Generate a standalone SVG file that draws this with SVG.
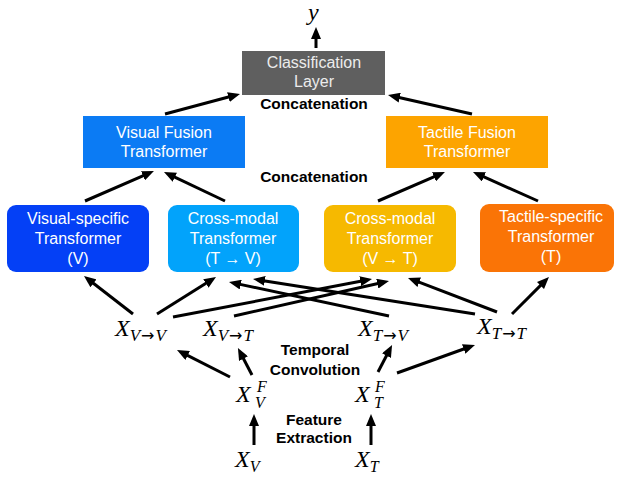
<svg xmlns="http://www.w3.org/2000/svg" width="619" height="477" viewBox="0 0 619 477">
<defs>
<marker id="ah" markerUnits="userSpaceOnUse" markerWidth="12" markerHeight="10" viewBox="0 0 12 10" refX="3" refY="5" orient="auto">
<path d="M0,0 L12,5 L0,10 z" fill="#000"/>
</marker>
<style>
.bt{fill:#fff;font-family:"Liberation Sans",Arial,sans-serif;font-size:16px;text-anchor:middle}
.cl{fill:#ececec}
.lbl{fill:#000;font-family:"Liberation Sans",Arial,sans-serif;font-size:15.5px;font-weight:bold;text-anchor:middle}
.m{fill:#000;font-family:"Liberation Serif","Times New Roman",serif;font-style:italic}
.up{font-style:normal;font-family:"DejaVu Sans",sans-serif;font-size:16px}
.c line{stroke:#000;stroke-width:3;marker-end:url(#ah)}
</style>
</defs>
<g id="y"><text class="m" x="308" y="20" font-size="24">y</text></g>
<g id="classification">
<rect x="242" y="51" width="143" height="44" fill="#5f5f5f"/>
<text class="bt cl" x="314" y="68">Classification</text>
<text class="bt cl" x="314" y="87">Layer</text>
</g>
<g id="concat-top"><text class="lbl" x="314" y="109">Concatenation</text></g>
<g id="visual-fusion">
<rect x="83" y="116" width="162" height="52" fill="#0b7bf4"/>
<text class="bt" x="164" y="138">Visual Fusion</text>
<text class="bt" x="164" y="157">Transformer</text>
</g>
<g id="tactile-fusion">
<rect x="386" y="116" width="162" height="52" fill="#fda400"/>
<text class="bt" x="467" y="138">Tactile Fusion</text>
<text class="bt" x="467" y="157">Transformer</text>
</g>
<g id="concat-mid"><text class="lbl" x="314" y="182">Concatenation</text></g>
<g id="visual-specific">
<rect x="7" y="205" width="142" height="67" rx="9" fill="#0440f6"/>
<text class="bt" x="78" y="224">Visual-specific</text>
<text class="bt" x="78" y="244">Transformer</text>
<text class="bt" x="78" y="264">(V)</text>
</g>
<g id="cross-tv">
<rect x="168" y="205" width="131" height="67" rx="9" fill="#02a3fb"/>
<text class="bt" x="233" y="224">Cross-modal</text>
<text class="bt" x="233" y="244">Transformer</text>
<text class="bt" x="233" y="264">(T → V)</text>
</g>
<g id="cross-vt">
<rect x="324" y="205" width="132" height="67" rx="9" fill="#f6b900"/>
<text class="bt" x="390" y="224">Cross-modal</text>
<text class="bt" x="390" y="244">Transformer</text>
<text class="bt" x="390" y="264">(V → T)</text>
</g>
<g id="tactile-specific">
<rect x="480" y="204" width="134" height="68" rx="9" fill="#fa7406"/>
<text class="bt" x="551" y="222">Tactile-specific</text>
<text class="bt" x="551" y="242">Transformer</text>
<text class="bt" x="551" y="262">(T)</text>
</g>
<g id="x-vv"><text class="m" x="115" y="336" font-size="24">X<tspan font-size="17" dy="5">V<tspan class="up" dx="1">→</tspan><tspan dx="1">V</tspan></tspan></text></g>
<g id="x-vt"><text class="m" x="203" y="336" font-size="24">X<tspan font-size="17" dy="5">V<tspan class="up" dx="1">→</tspan><tspan dx="1">T</tspan></tspan></text></g>
<g id="x-tv"><text class="m" x="358" y="336" font-size="24">X<tspan font-size="17" dy="5">T<tspan class="up" dx="1">→</tspan><tspan dx="1">V</tspan></tspan></text></g>
<g id="x-tt"><text class="m" x="477" y="334" font-size="24">X<tspan font-size="17" dy="5">T<tspan class="up" dx="1">→</tspan><tspan dx="1">T</tspan></tspan></text></g>
<g id="temporal"><text class="lbl" x="315" y="355">Temporal</text><text class="lbl" x="315" y="375">Convolution</text></g>
<g id="x-vf"><text class="m" x="236" y="402" font-size="24">X</text><text class="m" x="257" y="392" font-size="16">F</text><text class="m" x="255" y="408" font-size="16">V</text></g>
<g id="x-tf"><text class="m" x="355" y="402" font-size="24">X</text><text class="m" x="375" y="392" font-size="16">F</text><text class="m" x="374" y="408" font-size="16">T</text></g>
<g id="feature"><text class="lbl" x="314" y="425">Feature</text><text class="lbl" x="314" y="443">Extraction</text></g>
<g id="x-v"><text class="m" x="235" y="467" font-size="24">X<tspan font-size="16" dy="5">V</tspan></text></g>
<g id="x-t"><text class="m" x="355" y="467" font-size="24">X<tspan font-size="16" dy="5">T</tspan></text></g>
<g id="connectors" class="c">
<line x1="316" y1="48" x2="316" y2="36"/>
<line x1="165" y1="114" x2="231.3" y2="96.3"/>
<line x1="472" y1="114" x2="396.8" y2="97"/>
<line x1="85" y1="201" x2="145.7" y2="174.6"/>
<line x1="225" y1="201" x2="172.1" y2="175.9"/>
<line x1="378" y1="201" x2="436.7" y2="175.6"/>
<line x1="538" y1="201" x2="481.2" y2="175.7"/>
<line x1="133" y1="314" x2="91.1" y2="281.5"/>
<line x1="157" y1="314" x2="208.4" y2="281.8"/>
<line x1="173" y1="317" x2="363.2" y2="280.7"/>
<line x1="234" y1="316" x2="380.2" y2="283"/>
<line x1="389" y1="316" x2="237.8" y2="283.9"/>
<line x1="475" y1="314" x2="261.9" y2="280.4"/>
<line x1="497" y1="312" x2="416.4" y2="281.2"/>
<line x1="512" y1="314" x2="542.6" y2="283.4"/>
<line x1="230" y1="377" x2="185" y2="354.1"/>
<line x1="252" y1="375" x2="242.1" y2="356"/>
<line x1="378" y1="372" x2="387.9" y2="353"/>
<line x1="397" y1="373" x2="466.5" y2="348"/>
<line x1="254" y1="445" x2="254" y2="423"/>
<line x1="371" y1="445" x2="371" y2="423"/>
</g>
</svg>
